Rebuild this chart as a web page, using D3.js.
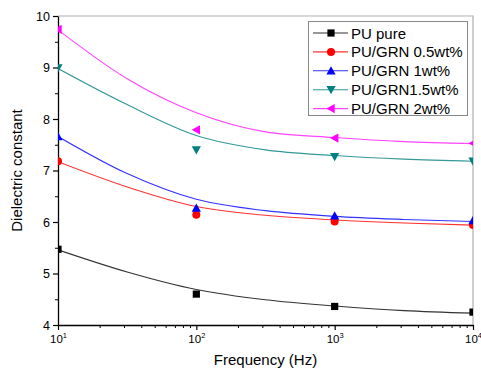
<!DOCTYPE html>
<html>
<head>
<meta charset="utf-8">
<script src="https://cdn.jsdelivr.net/npm/d3@7"></script>
<style>
  body { margin: 0; background: #fff; }
  svg { font-family: "Liberation Sans", Arial, sans-serif; }
</style>
</head>
<body>
<svg id="chart" width="481" height="376"></svg>
<script>
// measured frequencies (Hz)
const freqs = [10, 100, 1000, 10000];
const fitFreqs = [10, 31.6, 100, 316, 1000, 3162, 10000];

const seriesNames = ["PU pure", "PU/GRN 0.5wt%", "PU/GRN 1wt%", "PU/GRN1.5wt%", "PU/GRN 2wt%"];
const colors = ["#000000", "#ff0000", "#0000ff", "#008080", "#ff00ff"];
const lineColors = ["#333333", "#ff3333", "#3333ff", "#339999", "#ff44ff"];
const symbols = ["square", "circle", "up", "down", "left"];

// measured values
const puPure = [5.47, 4.60, 4.36, 4.25];
const grn05 = [7.18, 6.14, 6.01, 5.94];
const grn1 = [7.66, 6.27, 6.12, 6.03];
const grn15 = [8.99, 7.40, 7.27, 7.18];
const grn2 = [9.74, 7.79, 7.63, 7.53];

// fitted curves
const fitPure = [5.46, 5.03, 4.69, 4.49, 4.37, 4.28, 4.23];
const fit05 = [7.17, 6.68, 6.30, 6.13, 6.04, 5.98, 5.94];
const fit1 = [7.66, 6.94, 6.44, 6.22, 6.11, 6.05, 6.01];
const fit15 = [8.98, 8.28, 7.68, 7.40, 7.29, 7.22, 7.18];
const fit2 = [9.73, 8.78, 8.12, 7.75, 7.64, 7.56, 7.52];

const yTicks = [4, 5, 6, 7, 8, 9, 10];
const xTicks = [10, 100, 1000, 10000];
const xExponents = ["1", "2", "3", "4"];

const measured = [puPure, grn05, grn1, grn15, grn2];
const fits = [fitPure, fit05, fit1, fit15, fit2];

const svg = d3.select("#chart");
const plotL = 58, plotR = 473, plotT = 16, plotB = 325;

const x = d3.scaleLog().domain([10, 10000]).range([plotL, plotR]);
const y = d3.scaleLinear().domain([4, 10]).range([plotB, plotT]);

// clip for markers sitting on the frame
svg.append("clipPath").attr("id", "plotClip")
  .append("rect")
  .attr("x", plotL).attr("y", plotT)
  .attr("width", plotR - plotL).attr("height", plotB - plotT);

// frame top / right
svg.append("path")
  .attr("d", `M${plotL},${plotT}H${plotR}V${plotB}`)
  .attr("fill", "none")
  .attr("stroke", "#b0b0b0")
  .attr("stroke-width", 1.2);

// minor ticks
const xMinor = [];
for (let d = 10; d < 10000; d *= 10) {
  for (let k = 2; k <= 9; k++) xMinor.push(d * k);
}
const yMinor = d3.range(4.5, 10, 1);

svg.append("g")
  .attr("transform", `translate(0,${plotB})`)
  .call(d3.axisBottom(x).tickValues(xMinor).tickSize(3).tickFormat(""))
  .call(g => g.select(".domain").remove())
  .selectAll("line").attr("stroke", "#000").attr("stroke-width", 1);

svg.append("g")
  .attr("transform", `translate(${plotL},0)`)
  .call(d3.axisLeft(y).tickValues(yMinor).tickSize(3).tickFormat(""))
  .call(g => g.select(".domain").remove())
  .selectAll("line").attr("stroke", "#000").attr("stroke-width", 1);

// x axis
const xAxis = svg.append("g")
  .attr("transform", `translate(0,${plotB})`)
  .call(d3.axisBottom(x).tickValues(xTicks).tickSize(5).tickSizeOuter(0).tickFormat(""));
xAxis.select(".domain").attr("stroke", "#000").attr("stroke-width", 1.3);
xAxis.selectAll("line").attr("stroke", "#000").attr("stroke-width", 1.2);
xAxis.selectAll(".tick text")
  .attr("y", 18)
  .attr("dy", 0)
  .attr("font-size", 11.5)
  .attr("fill", "#000")
  .attr("font-family", "Liberation Sans, Arial, sans-serif")
  .each(function (d, i) {
    const t = d3.select(this);
    t.append("tspan").text("10");
    t.append("tspan").attr("dy", -5).attr("font-size", 7.5).text(xExponents[i]);
  });

// y axis
const yAxis = svg.append("g")
  .attr("transform", `translate(${plotL},0)`)
  .call(d3.axisLeft(y).tickValues(yTicks).tickSize(5).tickSizeOuter(0).tickFormat(d3.format("d")));
yAxis.select(".domain").attr("stroke", "#000").attr("stroke-width", 1.3);
yAxis.selectAll("line").attr("stroke", "#000").attr("stroke-width", 1.2);
yAxis.selectAll("text")
  .attr("x", -8)
  .attr("font-size", 12.5)
  .attr("fill", "#000")
  .attr("font-family", "Liberation Sans, Arial, sans-serif");

// axis titles
svg.append("text")
  .attr("x", (plotL + plotR) / 2)
  .attr("y", 365)
  .attr("text-anchor", "middle")
  .attr("font-size", 15)
  .text("Frequency (Hz)");

svg.append("text")
  .attr("transform", `translate(22,${(plotT + plotB) / 2}) rotate(-90)`)
  .attr("text-anchor", "middle")
  .attr("font-size", 15)
  .text("Dielectric constant");

// symbol drawing
function drawSymbol(g, kind, cx, cy, color) {
  const s = 3.6;
  if (kind === "square") {
    g.append("rect").attr("x", cx - s).attr("y", cy - s)
      .attr("width", 2 * s).attr("height", 2 * s).attr("fill", color);
  } else if (kind === "circle") {
    g.append("circle").attr("cx", cx).attr("cy", cy).attr("r", s + 0.4).attr("fill", color);
  } else {
    const r = 4.6;
    let pts;
    if (kind === "up") pts = [[cx, cy - r], [cx + r, cy + r * 0.8], [cx - r, cy + r * 0.8]];
    if (kind === "down") pts = [[cx, cy + r], [cx + r, cy - r * 0.8], [cx - r, cy - r * 0.8]];
    if (kind === "left") pts = [[cx - r, cy], [cx + r * 0.8, cy - r], [cx + r * 0.8, cy + r]];
    g.append("polygon").attr("points", pts.map(p => p.join(",")).join(" ")).attr("fill", color);
  }
}

const plot = svg.append("g").attr("clip-path", "url(#plotClip)");

const line = d3.line()
  .x((d, i) => x(fitFreqs[i]))
  .y(d => y(d))
  .curve(d3.curveMonotoneX);

fits.forEach((f, k) => {
  plot.append("path")
    .attr("d", line(f))
    .attr("fill", "none")
    .attr("stroke", lineColors[k])
    .attr("stroke-width", 1.1);
});

measured.forEach((vals, k) => {
  const g = plot.append("g");
  vals.forEach((v, i) => drawSymbol(g, symbols[k], x(freqs[i]), y(v), colors[k]));
});

// legend
const lg = svg.append("g");
lg.append("rect")
  .attr("x", 308.5).attr("y", 21.5)
  .attr("width", 159).attr("height", 94)
  .attr("fill", "#fff")
  .attr("stroke", "#888")
  .attr("stroke-width", 1);

seriesNames.forEach((name, k) => {
  const ly = 33 + k * 18.9;
  lg.append("line")
    .attr("x1", 313).attr("x2", 348)
    .attr("y1", ly).attr("y2", ly)
    .attr("stroke", lineColors[k]).attr("stroke-width", 1.1);
  drawSymbol(lg, symbols[k], 331, ly, colors[k]);
  lg.append("text")
    .attr("x", 351).attr("y", ly + 5.5)
    .attr("font-size", 15)
    .text(name);
});
</script>
</body>
</html>
